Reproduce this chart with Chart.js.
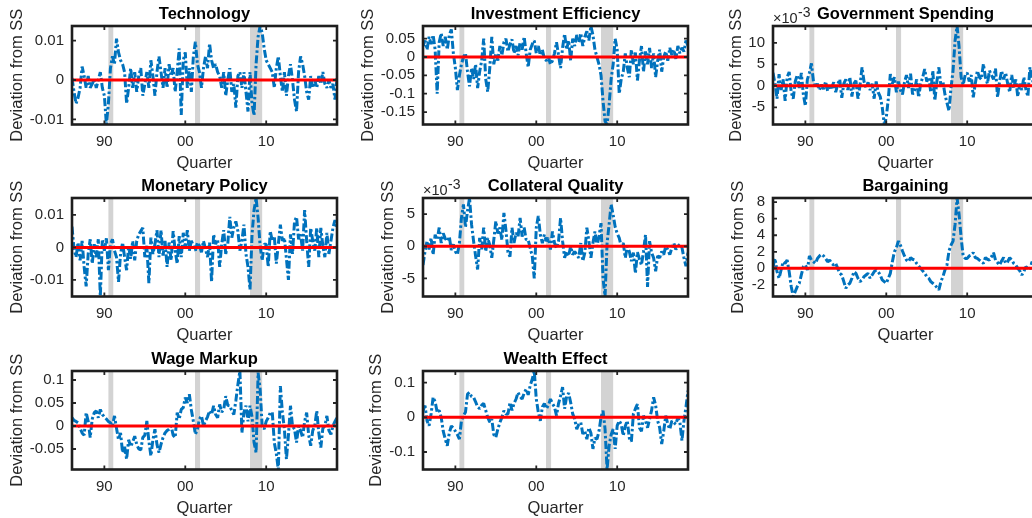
<!DOCTYPE html>
<html>
<head>
<meta charset="utf-8">
<script src="https://cdn.jsdelivr.net/npm/chart.js@4.4.1/dist/chart.umd.min.js"></script>
<style>
  html, body { margin: 0; padding: 0; background: #ffffff; overflow: hidden; }
  #wrap { position: relative; width: 1032px; height: 518px; overflow: hidden; background: #ffffff; }
  #wrap canvas { position: absolute; }
</style>
</head>
<body>
<div id="wrap"></div>
<script>
// ---------------- data ----------------
const quarterStart = 1986;           // 1986Q1
const quarterCount = 132;            // through 2018Q4
const quarterDates = [];
for (let i = 0; i < quarterCount; i++) quarterDates.push(quarterStart + i / 4);

const xRange = [1986, 2018.75];
const xTickValues = [1990, 2000, 2010];
const xTickLabels = ['90', '00', '10'];
const recessions = [[1990.5, 1991.1], [2001.2, 2001.83], [2008.0, 2009.5]];

const technology = [
  0.0005,-0.003,-0.006,-0.0045,-0.002,0.0034,0.001,-0.002,0.001,-0.002,-0.001,0.0002,
  -0.002,0.0,0.002,-0.002,-0.004,-0.0113,-0.006,0.003,0.006,0.004,0.0105,0.007,
  0.005,0.004,0.002,-0.006,-0.002,0.003,-0.002,0.002,-0.003,0.001,0.003,-0.004,
  -0.001,0.002,-0.002,0.005,0.001,-0.004,0.002,0.006,0.002,-0.002,0.003,-0.002,
  0.004,0.001,0.003,-0.003,0.002,0.008,-0.0089,0.005,0.007,-0.002,0.003,-0.003,
  0.006,0.0097,0.004,0.002,-0.002,0.003,0.006,0.003,0.0093,0.005,0.003,0.004,
  0.002,0.001,-0.002,0.002,-0.004,0.0,0.003,-0.003,-0.001,-0.007,0.001,0.002,
  -0.002,0.002,-0.003,-0.008,0.002,-0.006,-0.009,0.004,0.011,0.0137,0.012,0.008,
  0.005,0.004,0.003,0.002,-0.002,0.003,0.006,0.001,-0.003,0.002,-0.004,0.001,
  0.004,0.0,-0.005,-0.008,0.002,0.006,0.004,0.001,-0.003,-0.005,0.001,-0.002,
  0.0,-0.002,0.001,-0.001,0.002,-0.001,-0.002,0.0,-0.002,-0.001,-0.005,0.0005
];
const investmentEfficiency = [
  0.03,0.045,0.02,0.055,0.035,0.06,0.02,-0.1,0.04,0.065,0.03,0.055,
  0.02,0.06,0.075,0.01,-0.03,-0.09,-0.05,-0.02,0.0,0.01,-0.04,-0.08,
  -0.03,-0.06,-0.02,-0.085,-0.04,-0.01,0.05,-0.06,-0.095,-0.03,0.055,-0.02,
  0.01,-0.01,0.03,0.005,0.04,0.05,0.015,0.035,0.048,0.01,0.03,0.005,
  0.04,0.02,0.055,0.01,-0.028,0.02,0.035,0.045,0.01,0.03,0.005,0.02,
  -0.005,-0.01,0.0,-0.02,-0.01,0.01,0.04,0.005,-0.03,0.025,0.063,0.02,
  0.045,-0.01,0.05,0.03,0.06,0.04,0.065,0.03,0.055,0.07,0.045,0.0845,
  0.06,0.02,0.0,-0.02,-0.05,-0.12,-0.175,-0.184,-0.13,-0.06,-0.02,0.05,
  0.02,-0.1,-0.06,-0.04,0.01,-0.03,-0.055,0.02,-0.02,0.012,-0.064,-0.01,
  0.03,-0.04,0.015,-0.02,0.025,-0.03,0.01,-0.055,-0.01,0.02,-0.04,0.0,
  0.015,-0.01,0.025,0.005,0.02,-0.005,0.03,0.01,0.025,0.015,0.045,0.03
];
const governmentSpending = [
  0.003,0.0005,-0.003,0.0027,-0.001,0.0015,-0.0035,0.002,0.0032,-0.0015,-0.003,0.001,
  0.0025,-0.0005,0.003,-0.002,-0.0047,0.0015,0.003,0.0052,0.001,-0.0004,0.0005,-0.001,
  0.0003,-0.0008,0.001,-0.0012,0.0,-0.0005,0.0008,-0.0015,0.0004,0.0015,-0.0028,0.0005,
  0.0015,-0.001,0.002,-0.0025,0.0005,0.0012,-0.003,0.0,0.0043,0.001,-0.0005,0.0008,
  -0.001,0.0005,-0.003,0.001,-0.0015,-0.0025,-0.005,-0.009,-0.0074,-0.003,0.0027,0.0005,
  0.002,-0.0015,0.001,-0.001,-0.002,0.0008,0.0025,-0.0005,0.0028,-0.002,-0.001,0.0015,
  -0.0027,0.0005,0.002,0.0039,0.001,0.002,-0.0015,0.0035,-0.0035,0.001,0.0043,0.0,
  0.001,-0.002,-0.004,-0.0058,-0.0005,0.0035,0.0105,0.0139,0.009,0.002,0.0002,0.0025,
  0.003,0.001,0.0025,-0.0027,0.0005,0.0035,0.002,0.0015,0.0051,0.002,0.0005,0.0035,
  0.0025,0.0015,0.004,-0.0027,0.001,0.0035,0.0015,0.003,0.0005,-0.0015,0.0025,-0.0005,
  0.0015,-0.0025,0.0005,-0.001,0.002,-0.0008,-0.0025,0.0043,0.0015,0.0005,0.0025,0.001
];
const monetaryPolicy = [
  0.0064,-0.0005,-0.003,0.0015,-0.004,0.002,-0.006,-0.012,-0.002,0.0025,-0.005,0.001,
  -0.003,0.0025,-0.0151,0.0025,-0.001,0.0028,-0.007,0.001,0.0025,-0.001,-0.003,-0.0106,
  -0.002,0.0015,-0.003,-0.007,0.0005,-0.0035,0.002,-0.004,0.002,0.004,0.005,0.006,
  -0.003,0.0005,-0.011,0.003,-0.002,0.001,0.0053,-0.003,0.0053,-0.0025,0.002,-0.006,
  0.0015,-0.004,0.005,-0.001,-0.005,0.0035,-0.003,0.0045,0.0,0.0053,-0.001,0.002,
  0.0005,-0.001,0.0015,0.0005,-0.0015,0.002,-0.0005,-0.003,0.0015,-0.0106,0.004,0.001,
  0.0025,-0.006,0.001,0.0053,-0.002,0.001,0.0094,0.003,0.0062,0.008,0.005,-0.001,
  0.002,0.007,-0.002,-0.006,-0.013,0.004,0.0115,0.0152,0.009,0.0005,-0.004,0.001,
  0.001,-0.006,0.005,0.002,0.0035,-0.005,0.001,0.007,0.002,0.003,-0.0035,-0.01,
  0.004,-0.002,0.008,0.0094,0.0025,0.004,-0.001,0.0115,0.002,-0.006,0.006,0.002,
  -0.001,0.006,-0.003,0.006,0.0005,-0.003,0.0045,-0.002,0.002,0.006,0.0084,0.006
];
const collateralQuality = [
  -0.0029,-0.0008,0.0008,-0.0005,0.0013,-0.0013,0.0018,0.001,0.0029,0.0005,0.002,0.0012,
  0.0008,0.0015,-0.0006,0.0003,-0.0008,-0.0013,0.0005,0.0044,0.0065,0.003,0.0055,0.0075,
  0.0034,0.0008,-0.0015,-0.0036,0.0013,-0.0005,0.0029,-0.0008,0.0013,0.0002,-0.0018,0.001,
  0.0039,0.002,0.0029,0.001,0.0052,0.0025,-0.0009,-0.0016,0.0029,0.0005,0.0021,0.0015,
  0.0044,0.0015,0.0029,0.001,0.001,-0.0003,-0.0015,-0.005,0.0029,0.0047,0.0018,0.0005,
  0.0018,0.0008,0.0013,-0.0005,0.0023,0.0005,-0.0003,0.0008,0.0044,0.0008,-0.0018,-0.0008,
  -0.0015,0.0,-0.0013,-0.0008,-0.0013,-0.0018,0.0005,-0.0023,-0.001,0.0029,0.0008,-0.0018,
  0.0005,0.0023,0.0,0.0015,0.0036,-0.005,-0.0078,0.0005,0.0034,0.0065,0.0049,0.003,
  0.002,0.0013,0.0,0.0005,-0.0018,0.0,-0.0008,-0.0023,-0.001,-0.0042,-0.0009,-0.002,
  -0.0029,-0.0008,0.0018,-0.0063,0.0008,-0.001,-0.0018,-0.0039,-0.0015,-0.0018,-0.0008,-0.0013,
  0.0,-0.0005,-0.0013,-0.0003,0.0005,-0.0005,0.0,0.0003,-0.0002,-0.0018,-0.0031,-0.001
];
const bargaining = [
  0.2,1.2,-0.4,-1.2,-0.2,0.8,0.6,1.0,-0.4,-2.2,-3.4,-2.8,
  -2.2,-1.8,-0.8,0.2,0.4,-0.2,1.5,1.0,0.8,0.6,1.2,1.5,
  1.7,1.5,1.2,0.8,1.0,0.6,0.4,0.6,0.0,-0.6,-0.8,-1.6,
  -2.4,-2.0,-1.8,-1.2,-0.4,-0.6,-1.2,-1.6,-1.4,-1.0,-0.8,-0.6,
  -1.2,-0.8,-0.4,-0.2,-0.4,-0.8,-1.4,-1.6,-1.8,-1.2,-0.6,0.8,
  2.0,2.5,3.3,2.8,2.1,1.5,1.0,0.8,1.3,1.1,1.0,0.6,
  0.3,0.0,-0.3,-0.6,-1.0,-1.2,-1.6,-1.8,-2.0,-2.3,-2.6,-1.6,
  -1.0,-0.2,0.4,2.1,2.8,3.3,5.3,8.5,6.5,3.7,1.5,1.2,
  1.2,1.5,1.6,1.9,1.3,1.2,1.0,0.8,0.6,1.3,1.1,1.0,
  1.4,1.9,1.0,0.7,0.4,0.9,1.3,0.6,0.8,1.3,1.0,0.6,
  0.4,0.0,-0.3,-0.8,-0.4,0.2,0.0,-0.2,0.8,0.5,0.9,0.6
];
const wageMarkup = [
  0.018,0.012,0.01,0.007,-0.005,-0.015,-0.02,0.029,0.01,-0.025,0.015,0.029,
  0.033,0.018,0.036,0.025,0.02,0.015,0.01,0.007,0.0,0.022,-0.005,-0.03,
  -0.015,-0.058,-0.045,-0.072,-0.03,-0.045,-0.035,-0.022,-0.04,-0.05,-0.052,-0.025,
  -0.02,0.011,-0.033,-0.065,-0.03,-0.007,-0.04,-0.058,-0.04,-0.025,-0.015,-0.01,
  -0.007,0.0,-0.02,-0.025,0.029,0.015,0.036,0.04,0.062,0.05,0.069,0.035,
  0.01,-0.018,-0.007,0.015,0.022,0.0,0.011,0.02,0.033,0.025,0.044,0.025,
  0.018,0.047,0.03,0.036,0.065,0.045,0.044,0.033,0.025,0.055,0.09,0.1196,
  -0.015,0.03,0.044,0.01,0.044,0.02,-0.036,-0.058,0.116,0.08,0.0,-0.007,
  0.01,0.018,0.029,0.03,-0.036,-0.06,-0.0946,0.087,0.03,-0.007,-0.072,-0.02,
  0.044,0.0,-0.007,-0.036,0.0,-0.01,-0.025,0.01,0.029,-0.02,-0.043,-0.01,
  0.0,0.033,-0.015,-0.047,-0.005,0.0,0.022,-0.01,-0.018,0.0,0.01,0.018
];
const wealthEffect = [
  0.019,0.034,-0.01,-0.024,0.01,0.058,0.045,0.015,0.02,0.0,-0.04,-0.063,
  -0.082,-0.045,-0.025,-0.03,-0.04,-0.05,-0.063,-0.01,0.005,0.015,0.067,0.072,
  0.06,0.058,0.045,0.03,0.025,0.035,0.04,0.02,0.0,-0.014,-0.005,-0.05,
  -0.058,-0.034,-0.015,0.0,0.019,0.01,0.01,0.043,0.02,0.04,0.053,0.072,
  0.06,0.053,0.07,0.082,0.065,0.092,0.11,0.1338,0.053,0.015,-0.01,0.03,
  0.04,0.025,0.035,0.053,0.04,0.03,0.005,0.04,0.062,0.087,0.025,0.06,
  0.07,0.043,0.01,-0.005,-0.034,-0.02,-0.015,-0.048,-0.04,-0.063,-0.03,-0.045,
  -0.091,-0.06,-0.063,-0.04,0.0,0.019,-0.034,-0.1505,-0.082,-0.05,-0.034,-0.091,
  -0.024,-0.01,-0.02,-0.053,-0.025,-0.01,-0.06,-0.07,0.01,0.025,0.038,-0.03,
  -0.04,0.005,-0.01,-0.03,-0.005,0.02,0.058,0.035,-0.01,-0.03,-0.077,-0.04,
  0.005,-0.02,-0.034,-0.01,-0.015,-0.02,0.0,-0.015,-0.067,-0.01,0.03,0.077
];

// y-axis limits and tick marks
const techRange = [-0.0113, 0.0137];
const techTicks = [-0.01, 0, 0.01];
const techTickLabels = ['-0.01', '0', '0.01'];
const invRange = [-0.184, 0.0845];
const invTicks = [-0.15, -0.1, -0.05, 0, 0.05];
const invTickLabels = ['-0.15', '-0.1', '-0.05', '0', '0.05'];
const govRange = [-0.009, 0.0139];
const govTicks = [-0.005, 0, 0.005, 0.01];
const govTickLabels = ['-5', '0', '5', '10'];
const monRange = [-0.0151, 0.0152];
const monTicks = [-0.01, 0, 0.01];
const monTickLabels = ['-0.01', '0', '0.01'];
const colRange = [-0.0078, 0.0075];
const colTicks = [-0.005, 0, 0.005];
const colTickLabels = ['-5', '0', '5'];
const barRange = [-3.4, 8.5];
const barTicks = [-2, 0, 2, 4, 6, 8];
const barTickLabels = ['-2', '0', '2', '4', '6', '8'];
const wageRange = [-0.0946, 0.1196];
const wageTicks = [-0.05, 0, 0.05, 0.1];
const wageTickLabels = ['-0.05', '0', '0.05', '0.1'];
const wealthRange = [-0.1505, 0.1338];
const wealthTicks = [-0.1, 0, 0.1];
const wealthTickLabels = ['-0.1', '0', '0.1'];

const titles = ['Technology', 'Investment Efficiency', 'Government Spending', 'Monetary Policy',
                'Collateral Quality', 'Bargaining', 'Wage Markup', 'Wealth Effect'];
const xAxisTitle = 'Quarter';
const yAxisTitle = 'Deviation from SS';

// ---------------- layout / style ----------------
const FONT = "'Liberation Sans', Arial, Helvetica, sans-serif";
const TXT = '#262626';
const colLeft = [72, 423, 773];
const rowTop = [26, 198, 371];
const AREA_LEFT = 72, AREA_TOP = 26, CANVAS_W = 347, CANVAS_H = 173, X_AXIS_H = 48.5;

const panels = [
  { data: technology, range: techRange, ticks: techTicks, labels: techTickLabels, col: 0, row: 0, ylab: 55 },
  { data: investmentEfficiency, range: invRange, ticks: invTicks, labels: invTickLabels, col: 1, row: 0, ylab: 55 },
  { data: governmentSpending, range: govRange, ticks: govTicks, labels: govTickLabels, col: 2, row: 0, ylab: 36.5, exponent: '-3' },
  { data: monetaryPolicy, range: monRange, ticks: monTicks, labels: monTickLabels, col: 0, row: 1, ylab: 55 },
  { data: collateralQuality, range: colRange, ticks: colTicks, labels: colTickLabels, col: 1, row: 1, ylab: 35, exponent: '-3' },
  { data: bargaining, range: barRange, ticks: barTicks, labels: barTickLabels, col: 2, row: 1, ylab: 35 },
  { data: wageMarkup, range: wageRange, ticks: wageTicks, labels: wageTickLabels, col: 0, row: 2, ylab: 55 },
  { data: wealthEffect, range: wealthRange, ticks: wealthTicks, labels: wealthTickLabels, col: 1, row: 2, ylab: 46.5 }
];

const panelDecor = {
  id: 'panelDecor',
  beforeDatasetsDraw(chart) {
    const { ctx, chartArea: a, scales: { x } } = chart;
    ctx.save();
    ctx.fillStyle = '#d3d3d3';
    recessions.forEach(([s, e]) => {
      const x0 = x.getPixelForValue(s), x1 = x.getPixelForValue(e);
      ctx.fillRect(x0, a.top, x1 - x0, a.bottom - a.top);
    });
    ctx.restore();
  },
  afterDatasetsDraw(chart, args, opts) {
    const { ctx, chartArea: a, scales: { x, y } } = chart;
    ctx.save();
    ctx.strokeStyle = '#262626';
    ctx.lineWidth = 1.8;
    ctx.beginPath();
    x.ticks.forEach(t => {
      const px = x.getPixelForValue(t.value);
      ctx.moveTo(px, a.bottom); ctx.lineTo(px, a.bottom - 4);
      ctx.moveTo(px, a.top); ctx.lineTo(px, a.top + 4);
    });
    y.ticks.forEach(t => {
      const py = y.getPixelForValue(t.value);
      ctx.moveTo(a.left, py); ctx.lineTo(a.left + 4, py);
      ctx.moveTo(a.right, py); ctx.lineTo(a.right - 4, py);
    });
    ctx.stroke();
    ctx.lineWidth = 2.6;
    ctx.strokeStyle = '#1e1e1e';
    ctx.strokeRect(a.left, a.top, a.right - a.left, a.bottom - a.top);
    if (opts && opts.exponent) {
      ctx.fillStyle = TXT;
      ctx.textBaseline = 'alphabetic';
      ctx.textAlign = 'left';
      ctx.font = '14.5px ' + FONT;
      const base = '\u00d710';
      ctx.fillText(base, a.left, a.top - 3);
      const w = ctx.measureText(base).width;
      ctx.font = '14px ' + FONT;
      ctx.fillText(opts.exponent, a.left + w + 0.5, a.top - 9.5);
    }
    ctx.restore();
  }
};

const wrap = document.getElementById('wrap');
panels.forEach((p, k) => {
  const cv = document.createElement('canvas');
  cv.width = CANVAS_W; cv.height = CANVAS_H;
  cv.style.width = CANVAS_W + 'px'; cv.style.height = CANVAS_H + 'px';
  cv.style.left = (colLeft[p.col] - AREA_LEFT) + 'px';
  cv.style.top = (rowTop[p.row] - AREA_TOP) + 'px';
  wrap.appendChild(cv);

  new Chart(cv.getContext('2d'), {
    type: 'line',
    data: {
      datasets: [
        {
          data: [{ x: xRange[0], y: 0 }, { x: xRange[1], y: 0 }],
          borderColor: '#ff0000', borderWidth: 3, pointRadius: 0, clip: 0
        },
        {
          data: p.data.map((v, i) => ({ x: quarterDates[i], y: v })),
          borderColor: '#0072bd', borderWidth: 3, borderDash: [8, 2.5, 2.5, 2.5],
          borderCapStyle: 'butt', borderJoinStyle: 'bevel',
          pointRadius: 0, tension: 0, fill: false, clip: 0
        }
      ]
    },
    options: {
      responsive: false, animation: false, devicePixelRatio: 1,
      events: [],
      layout: { padding: { left: 0, right: 10, top: 0, bottom: 0 } },
      plugins: {
        legend: { display: false },
        tooltip: { enabled: false },
        title: {
          display: true, text: titles[k], fullSize: false, color: '#000000',
          font: { family: FONT, size: 16.5, weight: 'bold', lineHeight: 1.2 },
          padding: { top: 5, bottom: 1.2 }
        },
        panelDecor: { exponent: p.exponent || '' }
      },
      scales: {
        x: {
          type: 'linear', min: xRange[0], max: xRange[1],
          grid: { display: false, drawTicks: false },
          border: { display: false },
          afterBuildTicks: s => { s.ticks = xTickValues.map(v => ({ value: v })); },
          afterFit: s => { s.height = X_AXIS_H; },
          ticks: {
            autoSkip: false, maxRotation: 0, padding: 8.5, color: TXT,
            font: { family: FONT, size: 15, lineHeight: 1.2 },
            callback: (v, i) => xTickLabels[i]
          },
          title: {
            display: true, text: xAxisTitle, color: TXT,
            font: { family: FONT, size: 16.5, lineHeight: 1.2 },
            padding: { top: 0, bottom: 0 }
          }
        },
        y: {
          type: 'linear', min: p.range[0], max: p.range[1],
          grid: { display: false, drawTicks: false },
          border: { display: false },
          afterBuildTicks: s => { s.ticks = p.ticks.map(v => ({ value: v })); },
          afterFit: s => { s.width = AREA_LEFT; },
          ticks: {
            autoSkip: false, padding: 8, color: TXT,
            font: { family: FONT, size: 15, lineHeight: 1.2 },
            callback: (v, i) => p.labels[i]
          },
          title: {
            display: true, text: yAxisTitle, color: TXT,
            font: { family: FONT, size: 16.5, lineHeight: 1.2 },
            padding: { top: AREA_LEFT - p.ylab - 9.9, bottom: 0 }
          }
        }
      }
    },
    plugins: [panelDecor]
  });
});
</script>
</body>
</html>
